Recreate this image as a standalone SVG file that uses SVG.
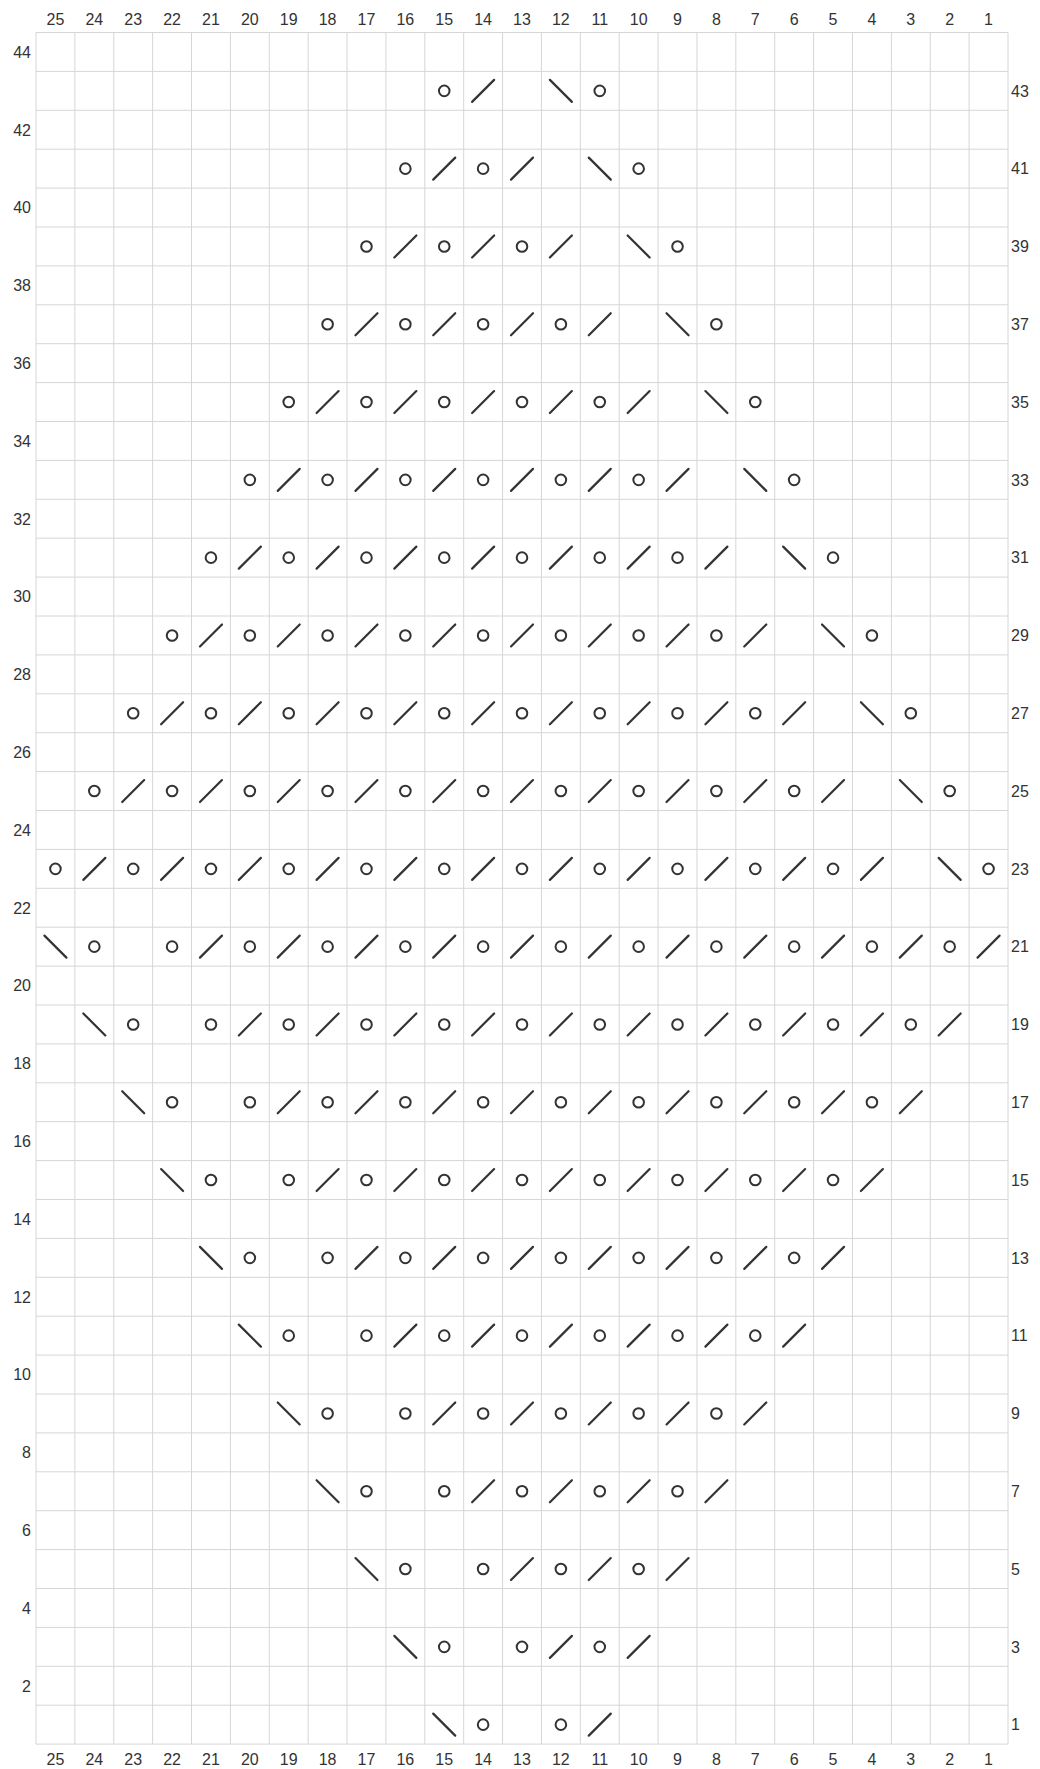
<svg xmlns="http://www.w3.org/2000/svg" xmlns:xlink="http://www.w3.org/1999/xlink" width="1040" height="1769" viewBox="0 0 1040 1769">
<style>
.lbl{font-family:"Liberation Sans",Arial,sans-serif;font-size:16px;fill:#333}
.top{text-anchor:middle}
.lft{text-anchor:end}
.rgt{text-anchor:start}
.grid{fill:none;stroke:#d6d6d6;stroke-width:1}
.sym{fill:none;stroke:#333;stroke-width:2.2;stroke-linecap:round}
</style>
<defs>
<circle id="o" class="sym" r="5.3" style="stroke-width:2"/>
<path id="k" class="sym" d="M-11 11L11-11"/>
<path id="s" class="sym" d="M-11-11L11 11"/>
</defs>
<rect width="1040" height="1769" fill="#fff"/>
<g id="grid">
<path class="grid" d="M36 32.5V1744.1M74.88 32.5V1744.1M113.76 32.5V1744.1M152.64 32.5V1744.1M191.52 32.5V1744.1M230.4 32.5V1744.1M269.28 32.5V1744.1M308.16 32.5V1744.1M347.04 32.5V1744.1M385.92 32.5V1744.1M424.8 32.5V1744.1M463.68 32.5V1744.1M502.56 32.5V1744.1M541.44 32.5V1744.1M580.32 32.5V1744.1M619.2 32.5V1744.1M658.08 32.5V1744.1M696.96 32.5V1744.1M735.84 32.5V1744.1M774.72 32.5V1744.1M813.6 32.5V1744.1M852.48 32.5V1744.1M891.36 32.5V1744.1M930.24 32.5V1744.1M969.12 32.5V1744.1M1008 32.5V1744.1"/>
<path class="grid" d="M36 32.5H1008M36 71.4H1008M36 110.3H1008M36 149.2H1008M36 188.1H1008M36 227H1008M36 265.9H1008M36 304.8H1008M36 343.7H1008M36 382.6H1008M36 421.5H1008M36 460.4H1008M36 499.3H1008M36 538.2H1008M36 577.1H1008M36 616H1008M36 654.9H1008M36 693.8H1008M36 732.7H1008M36 771.6H1008M36 810.5H1008M36 849.4H1008M36 888.3H1008M36 927.2H1008M36 966.1H1008M36 1005H1008M36 1043.9H1008M36 1082.8H1008M36 1121.7H1008M36 1160.6H1008M36 1199.5H1008M36 1238.4H1008M36 1277.3H1008M36 1316.2H1008M36 1355.1H1008M36 1394H1008M36 1432.9H1008M36 1471.8H1008M36 1510.7H1008M36 1549.6H1008M36 1588.5H1008M36 1627.4H1008M36 1666.3H1008M36 1705.2H1008M36 1744.1H1008"/>
</g>
<g id="col-labels-top" class="lbl top">
<text x="55.44" y="25">25</text><text x="94.32" y="25">24</text><text x="133.2" y="25">23</text><text x="172.08" y="25">22</text><text x="210.96" y="25">21</text><text x="249.84" y="25">20</text><text x="288.72" y="25">19</text><text x="327.6" y="25">18</text><text x="366.48" y="25">17</text><text x="405.36" y="25">16</text><text x="444.24" y="25">15</text><text x="483.12" y="25">14</text><text x="522" y="25">13</text><text x="560.88" y="25">12</text><text x="599.76" y="25">11</text><text x="638.64" y="25">10</text><text x="677.52" y="25">9</text><text x="716.4" y="25">8</text><text x="755.28" y="25">7</text><text x="794.16" y="25">6</text><text x="833.04" y="25">5</text><text x="871.92" y="25">4</text><text x="910.8" y="25">3</text><text x="949.68" y="25">2</text><text x="988.56" y="25">1</text>
</g>
<g id="col-labels-bottom" class="lbl top">
<text x="55.44" y="1765">25</text><text x="94.32" y="1765">24</text><text x="133.2" y="1765">23</text><text x="172.08" y="1765">22</text><text x="210.96" y="1765">21</text><text x="249.84" y="1765">20</text><text x="288.72" y="1765">19</text><text x="327.6" y="1765">18</text><text x="366.48" y="1765">17</text><text x="405.36" y="1765">16</text><text x="444.24" y="1765">15</text><text x="483.12" y="1765">14</text><text x="522" y="1765">13</text><text x="560.88" y="1765">12</text><text x="599.76" y="1765">11</text><text x="638.64" y="1765">10</text><text x="677.52" y="1765">9</text><text x="716.4" y="1765">8</text><text x="755.28" y="1765">7</text><text x="794.16" y="1765">6</text><text x="833.04" y="1765">5</text><text x="871.92" y="1765">4</text><text x="910.8" y="1765">3</text><text x="949.68" y="1765">2</text><text x="988.56" y="1765">1</text>
</g>
<g id="row-labels-left" class="lbl lft">
<text x="31" y="57.7">44</text><text x="31" y="135.5">42</text><text x="31" y="213.3">40</text><text x="31" y="291.1">38</text><text x="31" y="368.9">36</text><text x="31" y="446.7">34</text><text x="31" y="524.5">32</text><text x="31" y="602.3">30</text><text x="31" y="680.1">28</text><text x="31" y="757.9">26</text><text x="31" y="835.7">24</text><text x="31" y="913.5">22</text><text x="31" y="991.3">20</text><text x="31" y="1069.1">18</text><text x="31" y="1146.9">16</text><text x="31" y="1224.7">14</text><text x="31" y="1302.5">12</text><text x="31" y="1380.3">10</text><text x="31" y="1458.1">8</text><text x="31" y="1535.9">6</text><text x="31" y="1613.7">4</text><text x="31" y="1691.5">2</text>
</g>
<g id="row-labels-right" class="lbl rgt">
<text x="1011" y="96.6">43</text><text x="1011" y="174.4">41</text><text x="1011" y="252.2">39</text><text x="1011" y="330">37</text><text x="1011" y="407.8">35</text><text x="1011" y="485.6">33</text><text x="1011" y="563.4">31</text><text x="1011" y="641.2">29</text><text x="1011" y="719">27</text><text x="1011" y="796.8">25</text><text x="1011" y="874.6">23</text><text x="1011" y="952.4">21</text><text x="1011" y="1030.2">19</text><text x="1011" y="1108">17</text><text x="1011" y="1185.8">15</text><text x="1011" y="1263.6">13</text><text x="1011" y="1341.4">11</text><text x="1011" y="1419.2">9</text><text x="1011" y="1497">7</text><text x="1011" y="1574.8">5</text><text x="1011" y="1652.6">3</text><text x="1011" y="1730.4">1</text>
</g>
<g id="symbols">
<g id="row-43" transform="translate(0,90.85)">
<use href="#o" x="444.24"/><use href="#k" x="483.12"/><use href="#s" x="560.88"/><use href="#o" x="599.76"/>
</g>
<g id="row-41" transform="translate(0,168.65)">
<use href="#o" x="405.36"/><use href="#o" x="483.12"/>
<use href="#k" x="444.24"/><use href="#k" x="522"/>
<use href="#s" x="599.76"/><use href="#o" x="638.64"/>
</g>
<g id="row-39" transform="translate(0,246.45)">
<use href="#o" x="366.48"/><use href="#o" x="444.24"/><use href="#o" x="522"/>
<use href="#k" x="405.36"/><use href="#k" x="483.12"/><use href="#k" x="560.88"/>
<use href="#s" x="638.64"/><use href="#o" x="677.52"/>
</g>
<g id="row-37" transform="translate(0,324.25)">
<use href="#o" x="327.6"/><use href="#o" x="405.36"/><use href="#o" x="483.12"/><use href="#o" x="560.88"/>
<use href="#k" x="366.48"/><use href="#k" x="444.24"/><use href="#k" x="522"/><use href="#k" x="599.76"/>
<use href="#s" x="677.52"/><use href="#o" x="716.4"/>
</g>
<g id="row-35" transform="translate(0,402.05)">
<use href="#o" x="288.72"/><use href="#o" x="366.48"/><use href="#o" x="444.24"/><use href="#o" x="522"/><use href="#o" x="599.76"/>
<use href="#k" x="327.6"/><use href="#k" x="405.36"/><use href="#k" x="483.12"/><use href="#k" x="560.88"/><use href="#k" x="638.64"/>
<use href="#s" x="716.4"/><use href="#o" x="755.28"/>
</g>
<g id="row-33" transform="translate(0,479.85)">
<use href="#o" x="249.84"/><use href="#o" x="327.6"/><use href="#o" x="405.36"/><use href="#o" x="483.12"/><use href="#o" x="560.88"/><use href="#o" x="638.64"/>
<use href="#k" x="288.72"/><use href="#k" x="366.48"/><use href="#k" x="444.24"/><use href="#k" x="522"/><use href="#k" x="599.76"/><use href="#k" x="677.52"/>
<use href="#s" x="755.28"/><use href="#o" x="794.16"/>
</g>
<g id="row-31" transform="translate(0,557.65)">
<use href="#o" x="210.96"/><use href="#o" x="288.72"/><use href="#o" x="366.48"/><use href="#o" x="444.24"/><use href="#o" x="522"/><use href="#o" x="599.76"/><use href="#o" x="677.52"/>
<use href="#k" x="249.84"/><use href="#k" x="327.6"/><use href="#k" x="405.36"/><use href="#k" x="483.12"/><use href="#k" x="560.88"/><use href="#k" x="638.64"/><use href="#k" x="716.4"/>
<use href="#s" x="794.16"/><use href="#o" x="833.04"/>
</g>
<g id="row-29" transform="translate(0,635.45)">
<use href="#o" x="172.08"/><use href="#o" x="249.84"/><use href="#o" x="327.6"/><use href="#o" x="405.36"/><use href="#o" x="483.12"/><use href="#o" x="560.88"/><use href="#o" x="638.64"/><use href="#o" x="716.4"/>
<use href="#k" x="210.96"/><use href="#k" x="288.72"/><use href="#k" x="366.48"/><use href="#k" x="444.24"/><use href="#k" x="522"/><use href="#k" x="599.76"/><use href="#k" x="677.52"/><use href="#k" x="755.28"/>
<use href="#s" x="833.04"/><use href="#o" x="871.92"/>
</g>
<g id="row-27" transform="translate(0,713.25)">
<use href="#o" x="133.2"/><use href="#o" x="210.96"/><use href="#o" x="288.72"/><use href="#o" x="366.48"/><use href="#o" x="444.24"/><use href="#o" x="522"/><use href="#o" x="599.76"/><use href="#o" x="677.52"/><use href="#o" x="755.28"/>
<use href="#k" x="172.08"/><use href="#k" x="249.84"/><use href="#k" x="327.6"/><use href="#k" x="405.36"/><use href="#k" x="483.12"/><use href="#k" x="560.88"/><use href="#k" x="638.64"/><use href="#k" x="716.4"/><use href="#k" x="794.16"/>
<use href="#s" x="871.92"/><use href="#o" x="910.8"/>
</g>
<g id="row-25" transform="translate(0,791.05)">
<use href="#o" x="94.32"/><use href="#o" x="172.08"/><use href="#o" x="249.84"/><use href="#o" x="327.6"/><use href="#o" x="405.36"/><use href="#o" x="483.12"/><use href="#o" x="560.88"/><use href="#o" x="638.64"/><use href="#o" x="716.4"/><use href="#o" x="794.16"/>
<use href="#k" x="133.2"/><use href="#k" x="210.96"/><use href="#k" x="288.72"/><use href="#k" x="366.48"/><use href="#k" x="444.24"/><use href="#k" x="522"/><use href="#k" x="599.76"/><use href="#k" x="677.52"/><use href="#k" x="755.28"/><use href="#k" x="833.04"/>
<use href="#s" x="910.8"/><use href="#o" x="949.68"/>
</g>
<g id="row-23" transform="translate(0,868.85)">
<use href="#o" x="55.44"/><use href="#o" x="133.2"/><use href="#o" x="210.96"/><use href="#o" x="288.72"/><use href="#o" x="366.48"/><use href="#o" x="444.24"/><use href="#o" x="522"/><use href="#o" x="599.76"/><use href="#o" x="677.52"/><use href="#o" x="755.28"/><use href="#o" x="833.04"/>
<use href="#k" x="94.32"/><use href="#k" x="172.08"/><use href="#k" x="249.84"/><use href="#k" x="327.6"/><use href="#k" x="405.36"/><use href="#k" x="483.12"/><use href="#k" x="560.88"/><use href="#k" x="638.64"/><use href="#k" x="716.4"/><use href="#k" x="794.16"/><use href="#k" x="871.92"/>
<use href="#s" x="949.68"/><use href="#o" x="988.56"/>
</g>
<g id="row-21" transform="translate(0,946.65)">
<use href="#s" x="55.44"/><use href="#o" x="94.32"/>
<use href="#o" x="172.08"/><use href="#o" x="249.84"/><use href="#o" x="327.6"/><use href="#o" x="405.36"/><use href="#o" x="483.12"/><use href="#o" x="560.88"/><use href="#o" x="638.64"/><use href="#o" x="716.4"/><use href="#o" x="794.16"/><use href="#o" x="871.92"/><use href="#o" x="949.68"/>
<use href="#k" x="210.96"/><use href="#k" x="288.72"/><use href="#k" x="366.48"/><use href="#k" x="444.24"/><use href="#k" x="522"/><use href="#k" x="599.76"/><use href="#k" x="677.52"/><use href="#k" x="755.28"/><use href="#k" x="833.04"/><use href="#k" x="910.8"/><use href="#k" x="988.56"/>
</g>
<g id="row-19" transform="translate(0,1024.45)">
<use href="#s" x="94.32"/><use href="#o" x="133.2"/>
<use href="#o" x="210.96"/><use href="#o" x="288.72"/><use href="#o" x="366.48"/><use href="#o" x="444.24"/><use href="#o" x="522"/><use href="#o" x="599.76"/><use href="#o" x="677.52"/><use href="#o" x="755.28"/><use href="#o" x="833.04"/><use href="#o" x="910.8"/>
<use href="#k" x="249.84"/><use href="#k" x="327.6"/><use href="#k" x="405.36"/><use href="#k" x="483.12"/><use href="#k" x="560.88"/><use href="#k" x="638.64"/><use href="#k" x="716.4"/><use href="#k" x="794.16"/><use href="#k" x="871.92"/><use href="#k" x="949.68"/>
</g>
<g id="row-17" transform="translate(0,1102.25)">
<use href="#s" x="133.2"/><use href="#o" x="172.08"/>
<use href="#o" x="249.84"/><use href="#o" x="327.6"/><use href="#o" x="405.36"/><use href="#o" x="483.12"/><use href="#o" x="560.88"/><use href="#o" x="638.64"/><use href="#o" x="716.4"/><use href="#o" x="794.16"/><use href="#o" x="871.92"/>
<use href="#k" x="288.72"/><use href="#k" x="366.48"/><use href="#k" x="444.24"/><use href="#k" x="522"/><use href="#k" x="599.76"/><use href="#k" x="677.52"/><use href="#k" x="755.28"/><use href="#k" x="833.04"/><use href="#k" x="910.8"/>
</g>
<g id="row-15" transform="translate(0,1180.05)">
<use href="#s" x="172.08"/><use href="#o" x="210.96"/>
<use href="#o" x="288.72"/><use href="#o" x="366.48"/><use href="#o" x="444.24"/><use href="#o" x="522"/><use href="#o" x="599.76"/><use href="#o" x="677.52"/><use href="#o" x="755.28"/><use href="#o" x="833.04"/>
<use href="#k" x="327.6"/><use href="#k" x="405.36"/><use href="#k" x="483.12"/><use href="#k" x="560.88"/><use href="#k" x="638.64"/><use href="#k" x="716.4"/><use href="#k" x="794.16"/><use href="#k" x="871.92"/>
</g>
<g id="row-13" transform="translate(0,1257.85)">
<use href="#s" x="210.96"/><use href="#o" x="249.84"/>
<use href="#o" x="327.6"/><use href="#o" x="405.36"/><use href="#o" x="483.12"/><use href="#o" x="560.88"/><use href="#o" x="638.64"/><use href="#o" x="716.4"/><use href="#o" x="794.16"/>
<use href="#k" x="366.48"/><use href="#k" x="444.24"/><use href="#k" x="522"/><use href="#k" x="599.76"/><use href="#k" x="677.52"/><use href="#k" x="755.28"/><use href="#k" x="833.04"/>
</g>
<g id="row-11" transform="translate(0,1335.65)">
<use href="#s" x="249.84"/><use href="#o" x="288.72"/>
<use href="#o" x="366.48"/><use href="#o" x="444.24"/><use href="#o" x="522"/><use href="#o" x="599.76"/><use href="#o" x="677.52"/><use href="#o" x="755.28"/>
<use href="#k" x="405.36"/><use href="#k" x="483.12"/><use href="#k" x="560.88"/><use href="#k" x="638.64"/><use href="#k" x="716.4"/><use href="#k" x="794.16"/>
</g>
<g id="row-9" transform="translate(0,1413.45)">
<use href="#s" x="288.72"/><use href="#o" x="327.6"/>
<use href="#o" x="405.36"/><use href="#o" x="483.12"/><use href="#o" x="560.88"/><use href="#o" x="638.64"/><use href="#o" x="716.4"/>
<use href="#k" x="444.24"/><use href="#k" x="522"/><use href="#k" x="599.76"/><use href="#k" x="677.52"/><use href="#k" x="755.28"/>
</g>
<g id="row-7" transform="translate(0,1491.25)">
<use href="#s" x="327.6"/><use href="#o" x="366.48"/>
<use href="#o" x="444.24"/><use href="#o" x="522"/><use href="#o" x="599.76"/><use href="#o" x="677.52"/>
<use href="#k" x="483.12"/><use href="#k" x="560.88"/><use href="#k" x="638.64"/><use href="#k" x="716.4"/>
</g>
<g id="row-5" transform="translate(0,1569.05)">
<use href="#s" x="366.48"/><use href="#o" x="405.36"/>
<use href="#o" x="483.12"/><use href="#o" x="560.88"/><use href="#o" x="638.64"/>
<use href="#k" x="522"/><use href="#k" x="599.76"/><use href="#k" x="677.52"/>
</g>
<g id="row-3" transform="translate(0,1646.85)">
<use href="#s" x="405.36"/><use href="#o" x="444.24"/>
<use href="#o" x="522"/><use href="#o" x="599.76"/>
<use href="#k" x="560.88"/><use href="#k" x="638.64"/>
</g>
<g id="row-1" transform="translate(0,1724.65)">
<use href="#s" x="444.24"/><use href="#o" x="483.12"/>
<use href="#o" x="560.88"/><use href="#k" x="599.76"/>
</g>
</g>
</svg>
